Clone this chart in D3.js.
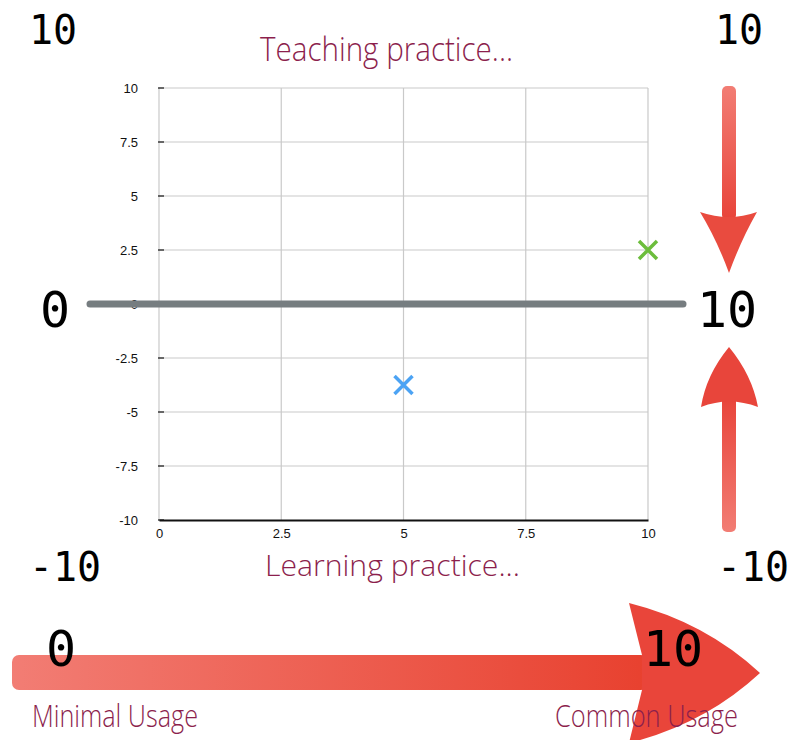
<!DOCTYPE html>
<html>
<head>
<meta charset="utf-8">
<script src="https://cdn.jsdelivr.net/npm/d3@7"></script>
<style>
  body { margin: 0; background: #fff; }
  svg { display: block; }
</style>
</head>
<body>
<svg id="canvas" width="788" height="740"></svg>
<script>
'use strict';

// chart values
var xTicks = [0, 2.5, 5, 7.5, 10];
var yTicks = [-10, -7.5, -5, -2.5, 0, 2.5, 5, 7.5, 10];
var pointNames = ['Practice A', 'Practice B'];
var pointX = [10, 5];
var pointY = [2.5, -3.75];
var pointColors = ['#6cbd3c', '#4ca3f4'];

// text round the chart
var topTitle = 'Teaching practice...';
var bottomTitle = 'Learning practice...';
var usageLabels = ['Minimal Usage', 'Common Usage'];
var usageValues = ['0', '10'];
var leftValues = ['10', '0', '-10'];
var rightValues = ['10', '10', '-10'];

var MONO = '"DejaVu Sans Mono", monospace';
var HAND = '"Liberation Sans Narrow", "Open Sans", sans-serif';
var HAND_COLOR = '#8c1f4d';
var TICK_FONT = '"Liberation Sans", Arial, sans-serif';

function RenderChart() {
  var svg = d3.select('#canvas');
  var x = d3.scaleLinear().domain([0, 10]).range([159, 648]);
  var y = d3.scaleLinear().domain([-10, 10]).range([520, 88]);

  var defs = svg.append('defs');
  function AddGradient(id, x1, y1, x2, y2, from, to) {
    var g = defs.append('linearGradient').attr('id', id)
      .attr('x1', x1).attr('y1', y1).attr('x2', x2).attr('y2', y2);
    g.append('stop').attr('offset', '0%').attr('stop-color', from);
    g.append('stop').attr('offset', '100%').attr('stop-color', to);
  }
  AddGradient('gDown', 0, 0, 0, 1, '#f27d74', '#e8443a');
  AddGradient('gUp', 0, 0, 0, 1, '#e8443a', '#f27d74');
  AddGradient('gRight', 0, 0, 1, 0, '#f27d74', '#e8412f');

  // grid
  var grid = svg.append('g');
  grid.selectAll('line.h')
      .data(yTicks.filter(function(d) { return d !== -10; }))
    .enter().append('line')
      .attr('x1', x(0)).attr('x2', x(10))
      .attr('y1', y).attr('y2', y)
      .attr('stroke', '#c9c9c9').attr('stroke-width', 1.2);
  grid.selectAll('line.v')
      .data(xTicks)
    .enter().append('line')
      .attr('x1', x).attr('x2', x)
      .attr('y1', y(10)).attr('y2', y(-10))
      .attr('stroke', '#c9c9c9').attr('stroke-width', 1.2);

  // left axis: small inner ticks and labels
  var yAxis = d3.axisLeft(y).tickValues(yTicks).tickSize(0).tickPadding(21)
    .tickFormat(function(d) { return String(d); });
  var ya = svg.append('g').attr('transform', 'translate(' + x(0) + ',0)').call(yAxis);
  ya.select('.domain').remove();
  ya.selectAll('text').attr('font-family', TICK_FONT)
    .attr('font-size', 13).attr('fill', '#111');
  svg.append('g').selectAll('line')
      .data(yTicks)
    .enter().append('line')
      .attr('x1', x(0) - 1).attr('x2', x(0) + 5)
      .attr('y1', y).attr('y2', y)
      .attr('stroke', '#222').attr('stroke-width', 1.3);

  // bottom axis
  var xAxis = d3.axisBottom(x).tickValues(xTicks).tickSize(0).tickPadding(9)
    .tickFormat(function(d) { return String(d); });
  var xa = svg.append('g').attr('transform', 'translate(0,' + y(-10) + ')').call(xAxis);
  xa.select('.domain').attr('stroke', '#111').attr('stroke-width', 2);
  xa.selectAll('text').attr('font-family', TICK_FONT)
    .attr('font-size', 13).attr('fill', '#111');

  // thick zero line
  svg.append('line')
    .attr('x1', 90).attr('x2', 683)
    .attr('y1', y(0)).attr('y2', y(0))
    .attr('stroke', '#767d80').attr('stroke-width', 7)
    .attr('stroke-linecap', 'round');

  // point markers
  var marks = svg.append('g').selectAll('g')
      .data(pointNames)
    .enter().append('g')
      .attr('transform', function(d, i) {
        return 'translate(' + x(pointX[i]) + ',' + y(pointY[i]) + ')';
      });
  marks.append('path')
    .attr('d', 'M-9,-9L9,9M-9,9L9,-9')
    .attr('stroke', function(d, i) { return pointColors[i]; })
    .attr('stroke-width', 3.5);

  // titles
  svg.append('text').text(topTitle)
    .attr('x', 260).attr('y', 61)
    .attr('textLength', 253).attr('lengthAdjust', 'spacingAndGlyphs')
    .attr('font-family', HAND).attr('font-size', 33).attr('font-weight', 300)
    .attr('fill', HAND_COLOR);
  svg.append('text').text(bottomTitle)
    .attr('x', 265).attr('y', 576)
    .attr('textLength', 255).attr('lengthAdjust', 'spacingAndGlyphs')
    .attr('font-family', HAND).attr('font-size', 30).attr('font-weight', 300)
    .attr('fill', HAND_COLOR);

  // vertical arrows on the right
  svg.append('rect')
    .attr('x', 722).attr('y', 86).attr('width', 14).attr('height', 134)
    .attr('rx', 5).attr('fill', 'url(#gDown)');
  svg.append('path')
    .attr('d', 'M700,212 Q729,222 757,212 Q741,240 729,273 Q717,240 700,212Z')
    .attr('fill', '#e94b3f');
  svg.append('rect')
    .attr('x', 722).attr('y', 396).attr('width', 14).attr('height', 136)
    .attr('rx', 5).attr('fill', 'url(#gUp)');
  svg.append('path')
    .attr('d', 'M729,347 Q752,375 758,407 Q729,396 701,407 Q706,375 729,347Z')
    .attr('fill', '#e8453b');

  // horizontal usage arrow
  svg.append('rect')
    .attr('x', 12).attr('y', 655).attr('width', 636).attr('height', 35)
    .attr('rx', 7).attr('fill', 'url(#gRight)');
  svg.append('path')
    .attr('d', 'M629,603 Q705,622 760,673 Q705,724 629,743 L642,690 L642,655 Z')
    .attr('fill', '#e9453a');

  // big value labels
  var bigText = [
    { t: leftValues[0], x: 53, y: 44, s: 40 },
    { t: leftValues[1], x: 55, y: 327, s: 50 },
    { t: leftValues[2], x: 65, y: 581, s: 40 },
    { t: rightValues[0], x: 739, y: 44, s: 40 },
    { t: rightValues[1], x: 727, y: 327, s: 50 },
    { t: rightValues[2], x: 753, y: 581, s: 40 },
    { t: usageValues[0], x: 61, y: 666, s: 50 },
    { t: usageValues[1], x: 673, y: 666, s: 50 }
  ];
  svg.append('g').selectAll('text')
      .data(bigText)
    .enter().append('text')
      .text(function(d) { return d.t; })
      .attr('x', function(d) { return d.x; })
      .attr('y', function(d) { return d.y; })
      .attr('text-anchor', 'middle')
      .attr('font-family', MONO)
      .attr('font-size', function(d) { return d.s; })
      .attr('fill', '#000');

  // usage labels
  svg.append('text').text(usageLabels[0])
    .attr('x', 32).attr('y', 727)
    .attr('textLength', 166).attr('lengthAdjust', 'spacingAndGlyphs')
    .attr('font-family', HAND).attr('font-size', 32).attr('font-weight', 300)
    .attr('fill', HAND_COLOR);
  svg.append('text').text(usageLabels[1])
    .attr('x', 555).attr('y', 727)
    .attr('textLength', 183).attr('lengthAdjust', 'spacingAndGlyphs')
    .attr('font-family', HAND).attr('font-size', 32).attr('font-weight', 300)
    .attr('fill', HAND_COLOR);
}

RenderChart();
</script>
</body>
</html>
